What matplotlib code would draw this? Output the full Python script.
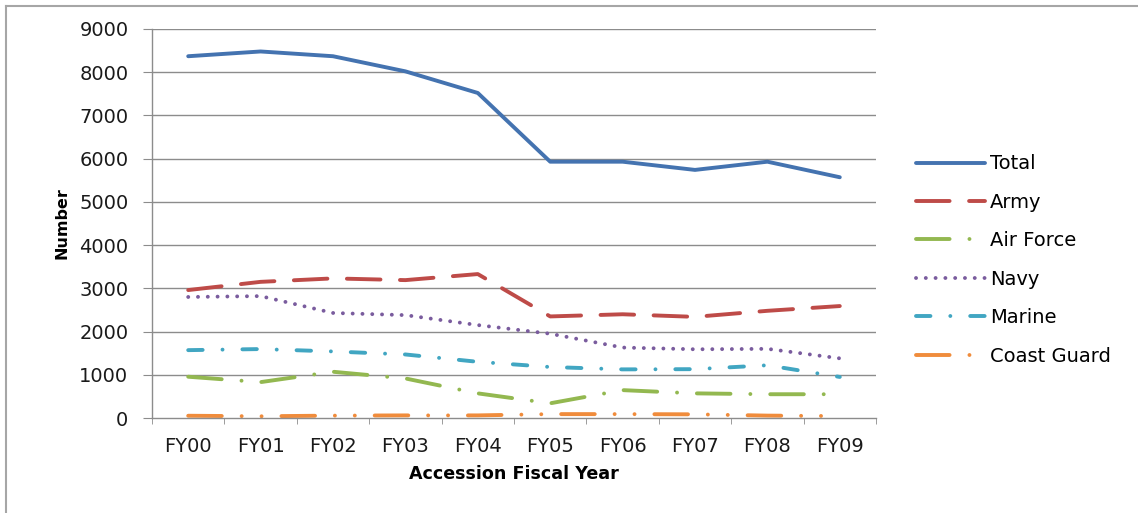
import numpy as np
import matplotlib
matplotlib.use("Agg")
import matplotlib.pyplot as plt
from matplotlib.lines import Line2D

# values
years = ["FY00", "FY01", "FY02", "FY03", "FY04", "FY05", "FY06", "FY07", "FY08", "FY09"]
total = [8370, 8480, 8370, 8020, 7520, 5930, 5930, 5740, 5930, 5570]
army = [2960, 3150, 3230, 3190, 3330, 2350, 2400, 2340, 2480, 2590]
air_force = [955, 830, 1070, 915, 570, 340, 645, 570, 550, 550]
navy = [2800, 2820, 2430, 2380, 2150, 1950, 1630, 1590, 1600, 1380]
marine = [1570, 1595, 1540, 1470, 1300, 1180, 1125, 1130, 1220, 950]
coast_guard = [52, 40, 55, 60, 60, 90, 90, 85, 55, 45]

y_ticks = [0, 1000, 2000, 3000, 4000, 5000, 6000, 7000, 8000, 9000]

plt.rcParams['font.family'] = ['DejaVu Sans']

W, H = 1138, 513
fig = plt.figure(figsize=(W / 100, H / 100), dpi=100)
ax = fig.add_axes([152 / W, 1 - 418 / H, (876 - 152) / W, (418 - 29) / H])

x = np.arange(len(years))
lw = 2.8
k = 2.6 / lw  # keep dash periods in pixels
series = [
    ("Total", total, "#4473B0", None),
    ("Army", army, "#BE4B48", (9.3, 5.4)),
    ("Air Force", air_force, "#93B850", (9.3, 5.5, 0.01, 5.5)),
    ("Navy", navy, "#7A5C9E", (0.01, 2.7)),
    ("Marine", marine, "#41A6C2", (4.0, 5.5, 0.01, 5.5)),
    ("Coast Guard", coast_guard, "#F08C3C", (9.3, 5.5, 0.01, 5.5, 0.01, 5.5)),
]
for name, vals, col, dash in series:
    line, = ax.plot(x, vals, color=col, lw=lw, label=name,
                    solid_capstyle="round", dash_capstyle="round", solid_joinstyle="round")
    if dash is not None:
        line.set_dashes([d * k if d > 0.05 else d for d in dash])

grid_c = "#8c8c8c"
ax.set_xlim(-0.5, len(years) - 0.5)
ax.set_ylim(0, 9000)
ax.set_yticks(y_ticks)
ax.set_yticklabels([str(v) for v in y_ticks])
ax.set_xticks(x)
ax.set_xticklabels(years)
ax.set_xticks(np.arange(-0.5, len(years)), minor=True)

for v in y_ticks[1:]:
    ax.axhline(v, color=grid_c, lw=1.0, zorder=0)

for s in ["top", "right"]:
    ax.spines[s].set_visible(False)
for s in ["left", "bottom"]:
    ax.spines[s].set_color(grid_c)
    ax.spines[s].set_linewidth(1.0)

ax.tick_params(axis="y", direction="out", length=6.5, color=grid_c, pad=10.5,
               labelsize=14, labelcolor="#1a1a1a")
ax.tick_params(axis="x", which="major", length=0, pad=14, labelsize=14, labelcolor="#1a1a1a")
ax.tick_params(axis="x", which="minor", direction="out", length=4.3, color=grid_c)

ax.set_xlabel("Accession Fiscal Year", fontsize=12.6, fontweight="bold", labelpad=6.5)
ax.set_ylabel("Number", fontsize=11.5, fontweight="bold", labelpad=7)

ax.legend(loc="center left", bbox_to_anchor=(916 / W, 1 - 260 / H),
          bbox_transform=fig.transFigure, frameon=False, fontsize=14,
          handlelength=3.55, handletextpad=0.26, labelspacing=1.0,
          borderpad=0, borderaxespad=0)

# outer chart border (top and left only visible)
fig.add_artist(Line2D([5.5 / W, 1], [1 - 5.5 / H, 1 - 5.5 / H], color="#a6a6a6", lw=1.5))
fig.add_artist(Line2D([5.5 / W, 5.5 / W], [0, 1 - 5.5 / H], color="#a6a6a6", lw=1.5))

fig.savefig("out.png", dpi=100)
